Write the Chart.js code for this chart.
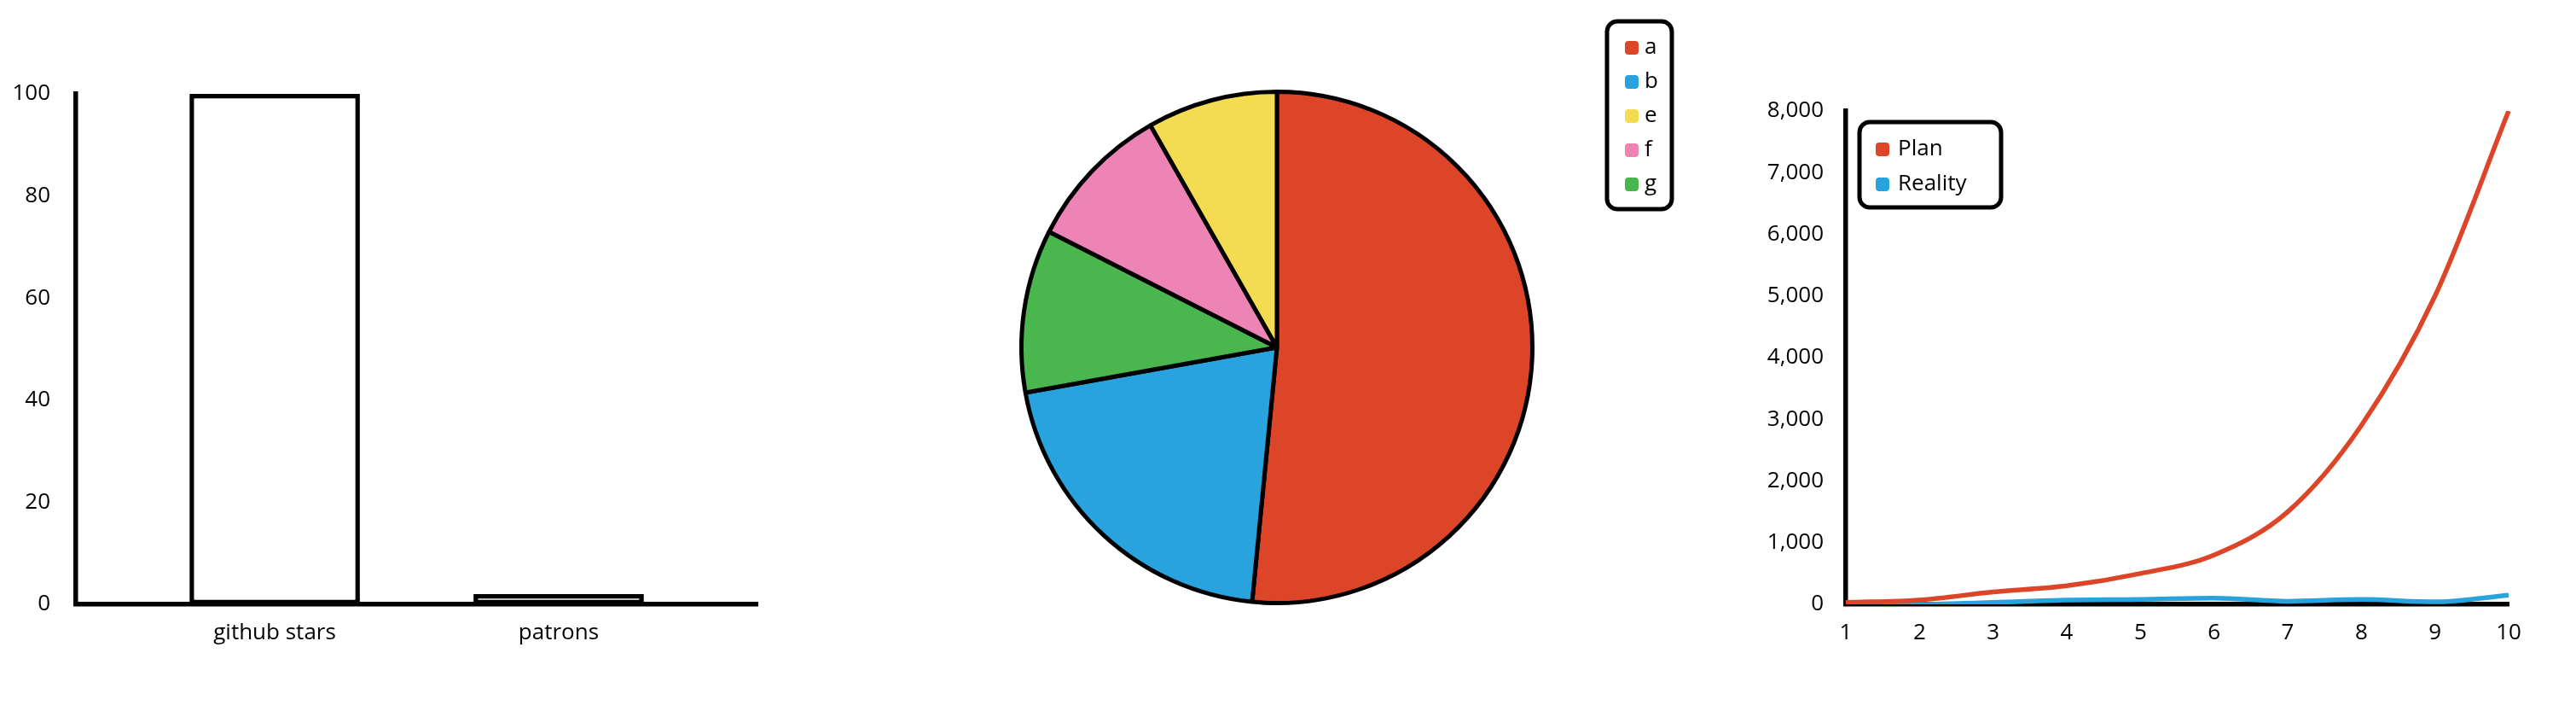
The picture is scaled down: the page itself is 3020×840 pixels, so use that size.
<!DOCTYPE html>
<html><head><meta charset="utf-8">
<script src="https://cdn.jsdelivr.net/npm/chart.js@4.4.0/dist/chart.umd.min.js"></script>
<style>
html,body{margin:0;padding:0;background:#fff;width:3020px;height:840px;overflow:hidden}
.box{position:absolute}
</style></head><body>
<div class="box" style="left:0;top:0;width:920px;height:840px"><canvas id="bar"></canvas></div>
<div class="box" style="left:1100px;top:0;width:920px;height:840px"><canvas id="pie"></canvas></div>
<div class="box" style="left:2030px;top:0;width:990px;height:840px"><canvas id="line"></canvas></div>
<script>
// ---- data ----
const barLabels = ['github stars', 'patrons'];
const barValues = [100, 2];
const barTicks = [0, 20, 40, 60, 80, 100];

const pieLabels = ['a', 'b', 'e', 'f', 'g'];
const pieValues = [500, 200, 80, 90, 100];
const pieColors = ['#dd4528', '#28a3dd', '#f3db52', '#ed84b5', '#4ab74e'];

const lineLabels = ['1', '2', '3', '4', '5', '6', '7', '8', '9', '10'];
const planValues = [30, 70, 200, 300, 500, 800, 1500, 2900, 5000, 8000];
const realityValues = [0, 1, 30, 70, 80, 100, 50, 80, 40, 150];
const lineSeriesNames = ['Plan', 'Reality'];
const lineColors = ['#dd4528', '#28a3dd'];
const lineYTicks = [0, 1000, 2000, 3000, 4000, 5000, 6000, 7000, 8000];

// ---- style ----
const FONT = "'Open Sans', sans-serif";
Chart.defaults.font.family = FONT;
Chart.defaults.font.size = 26;
Chart.defaults.color = '#000';
const AX = {display: true, color: '#000', width: 5.5};

const boxLegend = {
  id: 'boxLegend',
  afterDraw(chart, args, o) {
    if (!o || !o.items) return;
    const ctx = chart.ctx;
    ctx.save();
    ctx.lineWidth = 5; ctx.strokeStyle = '#000'; ctx.fillStyle = '#fff';
    ctx.beginPath(); ctx.roundRect(o.left, o.top, o.width, o.height, 12); ctx.fill(); ctx.stroke();
    ctx.font = "26px " + FONT; ctx.textBaseline = 'middle'; ctx.textAlign = 'left';
    o.items.forEach((it, i) => {
      const y = o.firstY + i * o.rowHeight;
      ctx.fillStyle = it.color; ctx.beginPath(); ctx.roundRect(o.swatchX, y - 8, 16, 16, 4); ctx.fill();
      ctx.fillStyle = '#000'; ctx.fillText(it.text, o.textX, y);
    });
    ctx.restore();
  }
};
Chart.register(boxLegend);

// ---- bar ----
new Chart(document.getElementById('bar'), {
  type: 'bar',
  data: {datasets: [{
    data: barValues.map((v, i) => ({x: i, y: v})),
    backgroundColor: '#fff', borderColor: '#000', borderWidth: 5.5, borderSkipped: false,
    categoryPercentage: 0.6, barPercentage: 1
  }]},
  options: {
    responsive: true, maintainAspectRatio: false, animation: false,
    layout: {padding: {top: 110, right: 32, bottom: 72, left: 0}},
    plugins: {legend: {display: false}, tooltip: {enabled: false}},
    scales: {
      x: {type: 'linear', offset: false, min: -0.7, max: 1.7, grace: 0,
        afterBuildTicks: s => { s.ticks = barLabels.map((_, i) => ({value: i})); },
        ticks: {callback: v => barLabels[v], padding: 10, autoSkip: false, maxRotation: 0},
        grid: {display: false}, border: AX, afterFit: s => { s.height = 60; }},
      y: {min: 0, max: 100,
        afterBuildTicks: s => { s.ticks = barTicks.map(v => ({value: v})); },
        ticks: {padding: 22}, grid: {display: false}, border: AX, afterFit: s => { s.width = 89; }}
    }
  }
});

// ---- pie (drawn largest first, legend in original order) ----
const order = pieValues.map((v, i) => i).sort((a, b) => pieValues[b] - pieValues[a]);
new Chart(document.getElementById('pie'), {
  type: 'pie',
  data: {
    labels: order.map(i => pieLabels[i]),
    datasets: [{data: order.map(i => pieValues[i]), backgroundColor: order.map(i => pieColors[i]),
      borderColor: '#000', borderWidth: 5}]
  },
  options: {
    responsive: true, maintainAspectRatio: false, animation: false,
    layout: {padding: {left: 95, top: 105, right: 221, bottom: 131}},
    plugins: {legend: {display: false}, tooltip: {enabled: false},
      boxLegend: {left: 784, top: 25, width: 76, height: 220, firstY: 56, rowHeight: 40,
        swatchX: 805, textX: 828, items: pieLabels.map((t, i) => ({text: t, color: pieColors[i]}))}}
  }
});

// ---- line ----
new Chart(document.getElementById('line'), {
  type: 'line',
  data: {
    labels: lineLabels,
    datasets: [planValues, realityValues].map((d, k) => ({
      label: lineSeriesNames[k], data: d, borderColor: lineColors[k], backgroundColor: lineColors[k],
      borderWidth: 5.5, pointRadius: 0, cubicInterpolationMode: 'monotone', fill: false
    }))
  },
  options: {
    responsive: true, maintainAspectRatio: false, animation: false,
    layout: {padding: {top: 130, right: 79, bottom: 72, left: 0}},
    plugins: {legend: {display: false}, tooltip: {enabled: false},
      boxLegend: {left: 150, top: 143, width: 166, height: 100, firstY: 175, rowHeight: 41,
        swatchX: 169, textX: 195, items: lineSeriesNames.map((t, i) => ({text: t, color: lineColors[i]}))}},
    scales: {
      x: {offset: false, ticks: {padding: 10, autoSkip: false, maxRotation: 0},
        grid: {display: false}, border: AX, afterFit: s => { s.height = 60; }},
      y: {min: 0, max: 8000,
        afterBuildTicks: s => { s.ticks = lineYTicks.map(v => ({value: v})); },
        ticks: {padding: 18, callback: v => v.toLocaleString('en-US')},
        grid: {display: false}, border: AX, afterFit: s => { s.width = 134; }}
    }
  }
});
</script>
</body></html>
